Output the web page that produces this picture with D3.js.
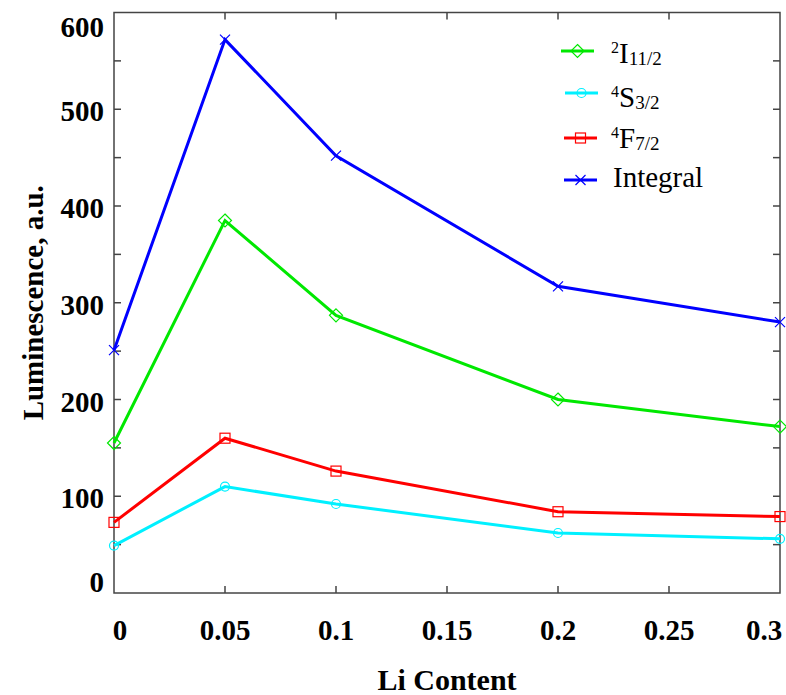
<!DOCTYPE html>
<html lang="en">
<head>
<meta charset="UTF-8">
<title>Luminescence vs Li Content</title>
<style>
  body { margin: 0; background: #fff; }
  svg text { font-family: "Liberation Serif", "Times New Roman", serif; fill: #000; }
</style>
</head>
<body>
<div id="chart"></div>
<script src="https://cdn.jsdelivr.net/npm/d3@7/dist/d3.min.js"></script>
<script>
// data
var liContent = [0, 0.05, 0.1, 0.2, 0.3];
var i11 = [155, 385, 287, 200, 172];
var s32 = [49, 110, 92, 62, 56];
var f72 = [73, 160, 126, 84, 79];
var integral = [251, 572, 452, 317, 280];
var xTicks = [0, 0.05, 0.1, 0.15, 0.2, 0.25, 0.3];
var yTicks = [0, 100, 200, 300, 400, 500, 600];

var series = [
  { name: "2I", sub: "11/2", values: i11, color: "#00e800", marker: "diamond" },
  { name: "4S", sub: "3/2", values: s32, color: "#00f0ff", marker: "circle" },
  { name: "4F", sub: "7/2", values: f72, color: "#ff0000", marker: "square" },
  { name: "Integral", sub: null, values: integral, color: "#0000ff", marker: "cross" }
];

var width = 786, height = 695;
var margin = { top: 12.5, right: 6, bottom: 102, left: 114 };

var svg = d3.select("#chart").append("svg")
  .attr("width", width)
  .attr("height", height);

var x = d3.scaleLinear().domain([0, 0.3]).range([margin.left, width - margin.right]);
var y = d3.scaleLinear().domain([0, 600]).range([height - margin.bottom, margin.top]);

var frameColor = "#444";

// frame
svg.append("rect")
  .attr("x", x(0)).attr("y", y(600))
  .attr("width", x(0.3) - x(0)).attr("height", y(0) - y(600))
  .attr("fill", "none").attr("stroke", frameColor).attr("stroke-width", 1.5);

// inward ticks on all four sides
var tickLen = 7;
var yAll = yTicks.slice(1, -1).concat(d3.range(50, 600, 100));
var xInner = xTicks.slice(1, -1);
[[x(0), 1], [x(0.3), -1]].forEach(function (side) {
  svg.append("g").selectAll("line").data(yAll)
    .enter().append("line")
    .attr("x1", side[0]).attr("x2", side[0] + side[1] * tickLen)
    .attr("y1", d => y(d)).attr("y2", d => y(d))
    .attr("stroke", frameColor).attr("stroke-width", 1.5);
});
[[y(0), -1], [y(600), 1]].forEach(function (side) {
  svg.append("g").selectAll("line").data(xInner)
    .enter().append("line")
    .attr("x1", d => x(d)).attr("x2", d => x(d))
    .attr("y1", side[0]).attr("y2", side[0] + side[1] * tickLen)
    .attr("stroke", frameColor).attr("stroke-width", 1.5);
});

// tick labels
svg.append("g").selectAll("text").data(yTicks)
  .enter().append("text")
  .attr("x", 104)
  .attr("y", d => d === 600 ? y(d) + 14 : (d === 0 ? y(d) - 11 : y(d) + 2))
  .attr("dy", "0.35em")
  .attr("text-anchor", "end")
  .attr("font-size", 29).attr("font-weight", "bold")
  .text(d => d);

svg.append("g").selectAll("text").data(xTicks)
  .enter().append("text")
  .attr("x", d => d === 0 ? x(d) + 6 : (d === 0.3 ? x(d) - 16 : x(d)))
  .attr("y", 640)
  .attr("text-anchor", "middle")
  .attr("font-size", 29).attr("font-weight", "bold")
  .text(d => d);

// axis titles
svg.append("text")
  .attr("x", 447).attr("y", 690)
  .attr("text-anchor", "middle")
  .attr("font-size", 30).attr("font-weight", "bold")
  .text("Li Content");

svg.append("text")
  .attr("transform", "translate(43," + y(300) + ") rotate(-90)")
  .attr("text-anchor", "middle")
  .attr("font-size", 29).attr("font-weight", "bold")
  .text("Luminescence, a.u.");

// markers
function drawMarker(g, type, cx, cy, color) {
  if (type === "diamond") {
    g.append("path").attr("d", `M${cx},${cy - 6.5}L${cx + 6.5},${cy}L${cx},${cy + 6.5}L${cx - 6.5},${cy}Z`)
      .attr("fill", "none").attr("stroke", color).attr("stroke-width", 1.2);
  } else if (type === "circle") {
    g.append("circle").attr("cx", cx).attr("cy", cy).attr("r", 4.5)
      .attr("fill", "none").attr("stroke", color).attr("stroke-width", 1.2);
  } else if (type === "square") {
    g.append("rect").attr("x", cx - 5).attr("y", cy - 5).attr("width", 10).attr("height", 10)
      .attr("fill", "none").attr("stroke", color).attr("stroke-width", 1.2);
  } else {
    g.append("path").attr("d", `M${cx - 5},${cy - 5}L${cx + 5},${cy + 5}M${cx - 5},${cy + 5}L${cx + 5},${cy - 5}`)
      .attr("stroke", color).attr("stroke-width", 1.2);
  }
}

var line = d3.line()
  .x((d, i) => x(liContent[i]))
  .y(d => y(d));

series.forEach(function (s) {
  var g = svg.append("g");
  g.append("path")
    .datum(s.values)
    .attr("d", line)
    .attr("fill", "none")
    .attr("stroke", s.color)
    .attr("stroke-width", 3);
  s.values.forEach(function (v, i) {
    drawMarker(g, s.marker, x(liContent[i]), y(v), s.color);
  });
});

// legend
var legendLineY = [51, 93, 138, 180];
var legendTextY = [63, 107, 148, 187];
var legendX = [[561, 594], [565, 598], [564, 597], [564, 597]];
series.forEach(function (s, i) {
  var g = svg.append("g");
  var lx = legendX[i];
  g.append("line").attr("x1", lx[0]).attr("x2", lx[1])
    .attr("y1", legendLineY[i]).attr("y2", legendLineY[i])
    .attr("stroke", s.color).attr("stroke-width", 3);
  drawMarker(g, s.marker, (lx[0] + lx[1]) / 2, legendLineY[i], s.color);
  var t = g.append("text").attr("x", 611).attr("y", legendTextY[i]).attr("font-size", 29);
  if (s.sub) {
    t.append("tspan").attr("font-size", 16).attr("dy", -10).text(s.name[0]);
    t.append("tspan").attr("dy", 10).text(s.name.slice(1));
    t.append("tspan").attr("font-size", 19).attr("dy", 2).text(s.sub);
  } else {
    t.attr("x", 613).text(s.name);
  }
});
</script>
</body>
</html>
